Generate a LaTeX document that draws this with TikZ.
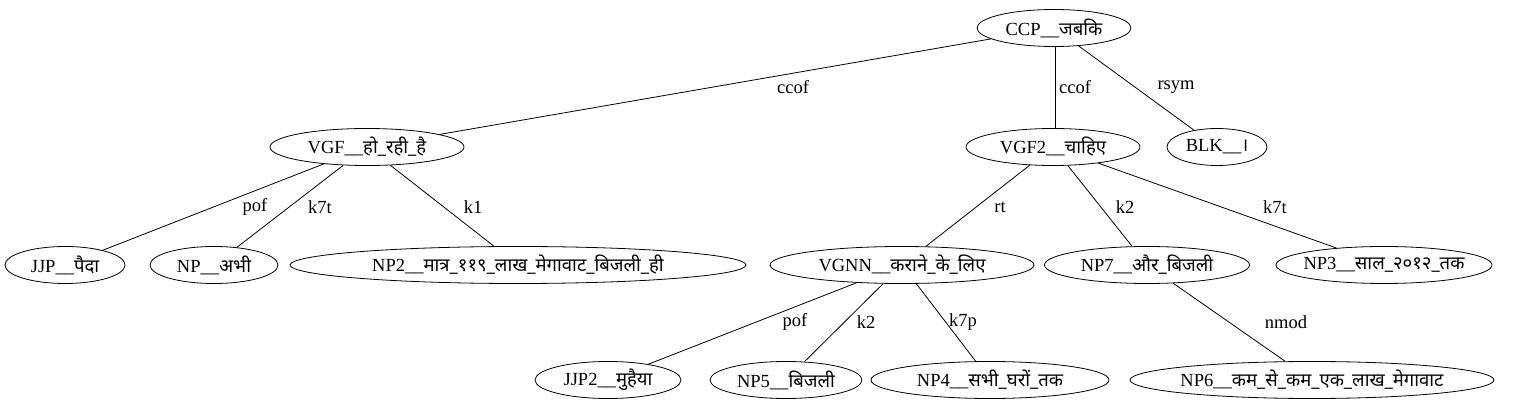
\documentclass[tikz,border=0pt]{standalone}
\usepackage{fontspec}
\setmainfont{Liberation Serif}
\newfontfamily\deva[Script=Devanagari]{Noto Sans}
\usetikzlibrary{shapes.geometric}
\newcommand\ntxt[2]{\makebox[0pt]{#1\_\_{\deva #2}}}
\tikzset{
  nd/.style={ellipse, draw, line width=0.8pt, inner sep=0pt, minimum height=37pt},
  lbl/.style={inner sep=0pt},
  edge/.style={line width=0.8pt}
}
\begin{document}
\begin{tikzpicture}[x=1pt,y=-1pt,font=\fontsize{18.5}{21}\selectfont]
\useasboundingbox (0,0) rectangle (1536,411);
% nodes
\node[nd, minimum width=154] (ccp) at (1054,28) {\ntxt{CCP}{जबकि}};
\node[nd, minimum width=194] (vgf) at (367,147) {\ntxt{VGF}{हो\_रही\_है}};
\node[nd, minimum width=174] (vgf2) at (1053,147) {\ntxt{VGF2}{चाहिए}};
\node[nd, minimum width=100] (blk) at (1217,147) {\ntxt{BLK}{।}};
\node[nd, minimum width=120] (jjp) at (65,265) {\ntxt{JJP}{पैदा}};
\node[nd, minimum width=128] (np) at (214,265) {\ntxt{NP}{अभी}};
\node[nd, minimum width=456] (np2) at (518,265) {\ntxt{NP2}{मात्र\_११९\_लाख\_मेगावाट\_बिजली\_ही}};
\node[nd, minimum width=264] (vgnn) at (902,265) {\ntxt{VGNN}{कराने\_के\_लिए}};
\node[nd, minimum width=205] (np7) at (1147,265) {\ntxt{NP7}{और\_बिजली}};
\node[nd, minimum width=216] (np3) at (1384,265) {\ntxt{NP3}{साल\_२०१२\_तक}};
\node[nd, minimum width=146] (jjp2) at (608,380) {\ntxt{JJP2}{मुहैया}};
\node[nd, minimum width=152] (np5) at (786,380) {\ntxt{NP5}{बिजली}};
\node[nd, minimum width=238] (np4) at (990,380) {\ntxt{NP4}{सभी\_घरों\_तक}};
\node[nd, minimum width=364] (np6) at (1312,380) {\ntxt{NP6}{कम\_से\_कम\_एक\_लाख\_मेगावाट}};
% edges
\draw[edge] (ccp) -- (vgf);
\draw[edge] (ccp.south -| 1055,0) -- (vgf2.north -| 1055,0);
\draw[edge] (ccp) -- (blk);
\draw[edge] (vgf) -- (jjp);
\draw[edge] (vgf) -- (np);
\draw[edge] (vgf) -- (np2);
\draw[edge] (vgf2) -- (vgnn);
\draw[edge] (vgf2) -- (np7);
\draw[edge] (vgf2) -- (np3);
\draw[edge] (vgnn) -- (jjp2);
\draw[edge] (vgnn) -- (np5);
\draw[edge] (vgnn) -- (np4);
\draw[edge] (np7) -- (np6);
% edge labels
\node[lbl] (l1) at (793,87) {ccof};
\node[lbl] (l2) at (1075,87) {ccof};
\node[lbl] (l3) at (1176,87) {rsym};
\node[lbl] (l4) at (255,207) {pof};
\node[lbl] (l5) at (320,207) {k7t};
\node[lbl] (l6) at (473,207) {k1};
\node[lbl] (l7) at (1000,207) {rt};
\node[lbl] (l8) at (1125,207) {k2};
\node[lbl] (l9) at (1275,207) {k7t};
\node[lbl] (l10) at (795,322) {pof};
\node[lbl] (l11) at (866,322) {k2};
\node[lbl] (l12) at (963,322) {k7p};
\node[lbl] (l13) at (1286,322) {nmod};
\end{tikzpicture}
\end{document}
